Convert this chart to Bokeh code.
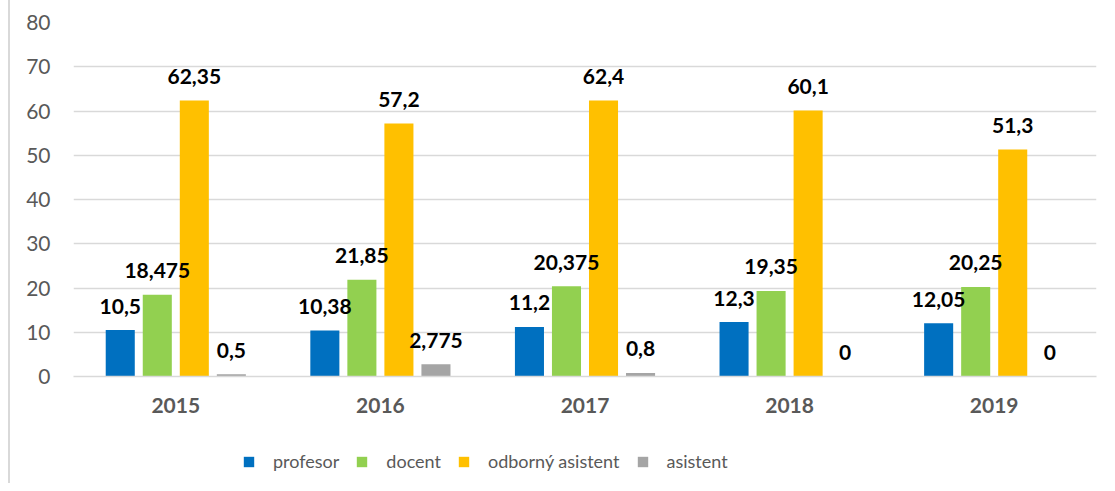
from bokeh.plotting import figure
from bokeh.layouts import column
from bokeh.models import ColumnDataSource, Range1d, Legend, LegendItem, FixedTicker
from bokeh.transform import dodge
from bokeh.core.properties import value
from bokeh.embed import file_html
from bokeh.resources import INLINE

years = ["2015", "2016", "2017", "2018", "2019"]
profesor = [10.5, 10.38, 11.2, 12.3, 12.05]
docent = [18.475, 21.85, 20.375, 19.35, 20.25]
odborny_asistent = [62.35, 57.2, 62.4, 60.1, 51.3]
asistent = [0.5, 2.775, 0.8, 0, 0]
series_names = ["profesor", "docent", "odborný asistent", "asistent"]
colors = ["#0070C0", "#92D050", "#FFC000", "#A5A5A5"]
y_ticks = [0, 10, 20, 30, 40, 50, 60, 70, 80]

series = [profesor, docent, odborny_asistent, asistent]
offsets = [-0.2715, -0.0905, 0.0905, 0.2715]
bar_w = 0.142

FONT = "Lato"
GREY = "#595959"
GRID = "#d9d9d9"
W = 1097

p = figure(x_range=years, y_range=Range1d(0, 80), width=W, height=430,
           output_backend="svg", toolbar_location=None,
           min_border_left=63, min_border_right=11, min_border_top=22, min_border_bottom=54)
p.x_range.range_padding = 0
p.outline_line_color = None
p.background_fill_color = "white"
p.border_fill_color = "white"

def fmt(v):
    return f"{v:g}".replace(".", ",")

sources = [ColumnDataSource(dict(years=years, v=vals, lab=[fmt(v) for v in vals]))
           for vals in series]

for src, off, col in zip(sources, offsets, colors):
    p.vbar(x=dodge("years", off, range=p.x_range), top="v", width=bar_w,
           source=src, fill_color=col, line_color=None)

for src, off in zip(sources, offsets):
    p.text(x=dodge("years", off, range=p.x_range), y="v", text="lab", source=src,
           text_font=value(FONT), text_font_style="bold", text_font_size="21px",
           text_color="black", text_align="center", text_baseline="alphabetic",
           y_offset=-24)

p.yaxis.ticker = FixedTicker(ticks=y_ticks)
p.yaxis.axis_line_color = None
p.yaxis.major_tick_line_color = None
p.yaxis.minor_tick_line_color = None
p.yaxis.major_label_standoff = 17
p.yaxis.major_label_text_font = FONT
p.yaxis.major_label_text_font_size = "21px"
p.yaxis.major_label_text_color = GREY

p.xaxis.axis_line_color = GRID
p.xaxis.axis_line_width = 1.5
p.xaxis.major_tick_line_color = None
p.xaxis.minor_tick_line_color = None
p.xaxis.major_label_standoff = 15
p.xaxis.major_label_text_font = FONT
p.xaxis.major_label_text_font_style = "bold"
p.xaxis.major_label_text_font_size = "21px"
p.xaxis.major_label_text_color = GREY

p.xgrid.grid_line_color = None
p.ygrid.grid_line_color = GRID
p.ygrid.grid_line_width = 1.5

# legend strip below the chart
lg = figure(x_range=years, y_range=Range1d(1000, 1001), width=W, height=53,
            output_backend="svg", toolbar_location=None,
            x_axis_location=None, y_axis_location=None,
            min_border_left=0, min_border_right=0, min_border_top=0, min_border_bottom=0)
lg.outline_line_color = None
lg.xgrid.grid_line_color = None
lg.ygrid.grid_line_color = None
lg.background_fill_color = "white"
lg.border_fill_color = "white"

items = []
for name, src, off, col in zip(series_names, sources, offsets, colors):
    r = lg.vbar(x=dodge("years", off, range=lg.x_range), top="v", width=bar_w,
                source=src, fill_color=col, line_color=None)
    items.append(LegendItem(label=name, renderers=[r]))

legend = Legend(items=items, orientation="horizontal", location=(169, 11),
                label_text_font=FONT, label_text_font_size="18px",
                label_text_color=GREY, glyph_width=13, glyph_height=13,
                label_standoff=18, spacing=16, padding=0, margin=0,
                label_height=20, border_line_color=None, background_fill_alpha=0)
lg.add_layout(legend)

layout = column(p, lg, spacing=0)
layout.styles = {"margin-left": "8px", "border-left": "2px solid #d9d9d9"}

open("out.html", "w").write(file_html(layout, INLINE))
